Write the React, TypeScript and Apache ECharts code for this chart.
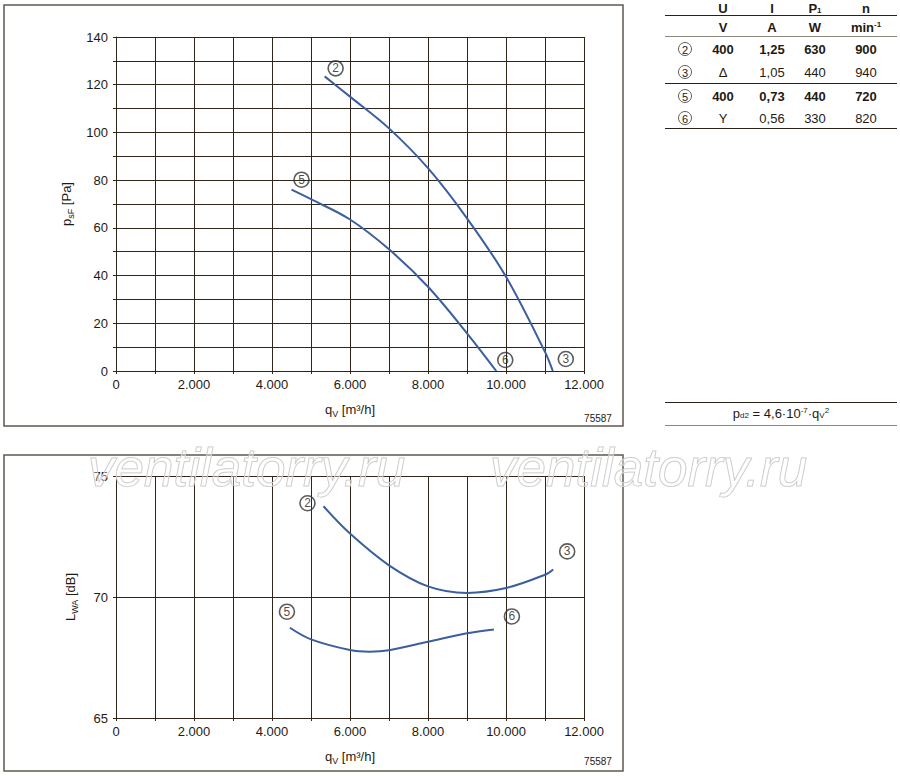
import React, { useEffect, useRef } from 'react';
import * as echarts from 'echarts';

// ---------- data ----------
const flowMin = 0;
const flowMax = 12000;
const flowStep = 1000;

// static pressure p_sF [Pa] vs flow q_V [m3/h]
const pressureCurveHigh: [number, number][] = [
  [5350, 123.5], [6000, 115], [7000, 101.7], [8000, 85], [9000, 64], [10000, 39.5], [11000, 8], [11200, 0],
];
const pressureCurveLow: [number, number][] = [
  [4500, 76], [5000, 72], [6000, 63.5], [7000, 51], [8000, 35.3], [9000, 15.8], [9750, 0],
];
// sound power L_WA [dB] vs flow
const soundCurveHigh: [number, number][] = [
  [5320, 73.75], [6000, 72.62], [7000, 71.31], [8000, 70.44], [9000, 70.17], [10000, 70.37], [11000, 70.92], [11210, 71.14],
];
const soundCurveLow: [number, number][] = [
  [4460, 68.73], [5000, 68.25], [6000, 67.81], [6500, 67.74], [7000, 67.8], [8000, 68.15], [9000, 68.5], [9690, 68.66],
];
const curveStartIds = ['2', '5'];
const curveEndIds = ['3', '6'];

// table
const tableIds = ['2', '3', '5', '6'];
const tableU = ['400', 'Δ', '400', 'Y'];
const tableI = ['1,25', '1,05', '0,73', '0,56'];
const tableP = ['630', '440', '440', '330'];
const tableN = ['900', '940', '720', '820'];
const tableBold = [true, false, true, false];
const tableHeaders = ['U', 'I', 'P{sub|1}', 'n'];
const tableUnits = ['V', 'A', 'W', 'min{sup|-1}'];

const drawingNo = '75587';
const watermarkText = 'ventilatorry.ru';

// ---------- styles ----------
const FONT = '"Liberation Sans", Arial, Helvetica, sans-serif';
const INK = '#1f1a12';
const GRIDC = '#2f2619';
const BLUE = '#3b5e9c';
const FRAME = '#5f5a50';

const subRich = {
  sub: { fontSize: 9, lineHeight: 10, verticalAlign: 'bottom' as const, fontFamily: FONT, color: INK },
  sup: { fontSize: 8, lineHeight: 10, verticalAlign: 'top' as const, fontFamily: FONT, color: INK },
};

const fmtFlow = (v: number) => {
  if (v % 2000 !== 0) return '';
  if (v === 0) return '0';
  return String(v / 1000) + '.000';
};

function circleLabel(id: string, dx: number, dy: number) {
  return {
    show: true,
    position: 'inside',
    offset: [dx, dy],
    formatter: id,
    color: INK,
    fontSize: 12,
    fontFamily: FONT,
    width: 13,
    height: 13,
    lineHeight: 13,
    align: 'center',
    verticalAlign: 'middle',
    borderColor: '#333',
    borderWidth: 0.8,
    borderRadius: 8,
    padding: [1, 1, 1, 1],
    backgroundColor: 'transparent',
  };
}

function buildOption() {
  const xAxisBase = (gridIndex: number, nameGap: number) => ({
    type: 'value',
    gridIndex,
    min: flowMin,
    max: flowMax,
    interval: flowStep,
    axisLine: { show: true, lineStyle: { color: GRIDC, width: 1 } },
    axisTick: { show: true, length: 3, lineStyle: { color: GRIDC } },
    axisLabel: { formatter: fmtFlow, color: INK, fontSize: 13, fontFamily: FONT, margin: 7 },
    splitLine: { show: true, lineStyle: { color: GRIDC, width: 1 } },
    name: 'q{sub|V} [m³/h]',
    nameLocation: 'middle',
    nameGap,
    nameTextStyle: { color: INK, fontSize: 13, fontFamily: FONT, lineHeight: 18, rich: subRich },
  });

  const lineSeries = (data: [number, number][], idx: number) => ({
    type: 'line',
    xAxisIndex: idx,
    yAxisIndex: idx,
    data,
    smooth: 0.35,
    symbol: 'none',
    lineStyle: { color: BLUE, width: 2 },
    z: 5,
  });

  const endLabels = (
    curves: [number, number][][],
    idx: number,
    offs: [number, number][][]
  ) => ({
    type: 'scatter',
    xAxisIndex: idx,
    yAxisIndex: idx,
    symbolSize: 0,
    silent: true,
    z: 6,
    data: curves.flatMap((c, i) => [
      { value: c[0], label: circleLabel(curveStartIds[i], offs[i][0][0], offs[i][0][1]) },
      { value: c[c.length - 1], label: circleLabel(curveEndIds[i], offs[i][1][0], offs[i][1][1]) },
    ]),
  });

  // table graphics
  const colX = [723, 772, 815, 866];
  const rowY = [49, 72, 96, 118];
  const tableGraphics: any[] = [];
  const txt = (text: string, x: number, y: number, bold: boolean, extra: any = {}) => ({
    type: 'text',
    style: {
      text,
      x,
      y,
      textAlign: 'center',
      textVerticalAlign: 'middle',
      fontSize: 13,
      fontWeight: bold ? 'bold' : 'normal',
      fontFamily: FONT,
      fill: INK,
      rich: {
        sub: { fontSize: 8, lineHeight: 8, verticalAlign: 'bottom', fontWeight: 'bold', fontFamily: FONT, fill: INK },
        sup: { fontSize: 8, lineHeight: 8, verticalAlign: 'top', fontWeight: 'bold', fontFamily: FONT, fill: INK },
      },
      ...extra,
    },
    z: 10,
  });
  tableHeaders.forEach((h, i) => tableGraphics.push(txt(h, colX[i], 8, true)));
  tableUnits.forEach((h, i) => tableGraphics.push(txt(h, colX[i], 27, true)));
  tableIds.forEach((id, r) => {
    tableGraphics.push({
      type: 'circle',
      shape: { cx: 685, cy: rowY[r], r: 6.5 },
      style: { fill: 'none', stroke: '#333', lineWidth: 0.8 },
      z: 10,
    });
    tableGraphics.push(txt(id, 685, rowY[r] + 0.5, false, { fontSize: 11 }));
    const vals = [tableU[r], tableI[r], tableP[r], tableN[r]];
    vals.forEach((v, c) => tableGraphics.push(txt(v, colX[c], rowY[r], tableBold[r])));
  });
  const hline = (y: number, color: string, w = 1) => ({
    type: 'line',
    shape: { x1: 665, y1: y, x2: 897, y2: y },
    style: { stroke: color, lineWidth: w },
    z: 10,
  });
  tableGraphics.push(hline(15.5, '#2a2217', 1));
  tableGraphics.push(hline(36.5, '#8e897f', 1));
  tableGraphics.push(hline(83.5, '#2a2217', 1));
  tableGraphics.push(hline(128.5, '#2a2217', 1));
  tableGraphics.push(hline(402.5, '#2a2217', 1));
  tableGraphics.push(hline(425.5, '#8e897f', 1));
  tableGraphics.push({
    type: 'text',
    style: {
      text: 'p{sub|d2} = 4,6·10{sup|-7}·q{sub|V}{sup|2}',
      x: 781,
      y: 413,
      textAlign: 'center',
      textVerticalAlign: 'middle',
      fontSize: 13,
      fontFamily: FONT,
      fill: INK,
      rich: {
        sub: { fontSize: 8, lineHeight: 10, verticalAlign: 'bottom', fontFamily: FONT, fill: INK },
        sup: { fontSize: 8, lineHeight: 10, verticalAlign: 'top', fontFamily: FONT, fill: INK },
      },
    },
    z: 10,
  });

  const frames = [
    { type: 'rect', shape: { x: 4, y: 5, width: 619, height: 421 }, style: { fill: 'none', stroke: FRAME, lineWidth: 1.5 }, z: 1 },
    { type: 'rect', shape: { x: 4, y: 455, width: 619, height: 316 }, style: { fill: 'none', stroke: FRAME, lineWidth: 1.5 }, z: 1 },
  ];
  const codes = [
    { type: 'text', style: { text: drawingNo, x: 598, y: 418, textAlign: 'center', textVerticalAlign: 'middle', fontSize: 10, fontFamily: FONT, fill: INK }, z: 10 },
    { type: 'text', style: { text: drawingNo, x: 598, y: 761, textAlign: 'center', textVerticalAlign: 'middle', fontSize: 10, fontFamily: FONT, fill: INK }, z: 10 },
  ];
  const watermarks = [88, 490].map((x) => ({
    type: 'text',
    style: {
      text: watermarkText,
      x,
      y: 467,
      textAlign: 'left',
      textVerticalAlign: 'middle',
      fontSize: 53,
      fontStyle: 'italic',
      fontFamily: FONT,
      fill: 'rgba(255,255,255,0.35)',
      stroke: '#c4c4c4',
      lineWidth: 1,
    },
    z: 20,
    silent: true,
  }));

  return {
    animation: false,
    backgroundColor: '#ffffff',
    grid: [
      { left: 116, top: 37, width: 468, height: 334 },
      { left: 116, top: 476, width: 468, height: 242 },
    ],
    xAxis: [xAxisBase(0, 29), xAxisBase(1, 29)],
    yAxis: [
      {
        type: 'value',
        gridIndex: 0,
        min: 0,
        max: 140,
        interval: 10,
        axisLine: { show: true, lineStyle: { color: GRIDC, width: 1 } },
        axisTick: { show: true, length: 3, lineStyle: { color: GRIDC } },
        axisLabel: { formatter: (v: number) => (v % 20 === 0 ? String(v) : ''), color: INK, fontSize: 13, fontFamily: FONT, margin: 8 },
        splitLine: { show: true, lineStyle: { color: GRIDC, width: 1 } },
        name: 'p{sub|sF} [Pa]',
        nameLocation: 'middle',
        nameRotate: 90,
        nameGap: 37,
        nameTextStyle: { color: INK, fontSize: 13, fontFamily: FONT, lineHeight: 18, rich: subRich },
      },
      {
        type: 'value',
        gridIndex: 1,
        min: 65,
        max: 75,
        interval: 5,
        axisLine: { show: true, lineStyle: { color: GRIDC, width: 1 } },
        axisTick: { show: true, length: 3, lineStyle: { color: GRIDC } },
        axisLabel: { color: INK, fontSize: 13, fontFamily: FONT, margin: 8 },
        splitLine: { show: true, lineStyle: { color: GRIDC, width: 1 } },
        name: 'L{sub|WA} [dB]',
        nameLocation: 'middle',
        nameRotate: 90,
        nameGap: 37,
        nameTextStyle: { color: INK, fontSize: 13, fontFamily: FONT, lineHeight: 18, rich: subRich },
      },
    ],
    series: [
      lineSeries(pressureCurveHigh, 0),
      lineSeries(pressureCurveLow, 0),
      lineSeries(soundCurveHigh, 1),
      lineSeries(soundCurveLow, 1),
      endLabels([pressureCurveHigh, pressureCurveLow], 0, [
        [[11, -8], [13, -12]],
        [[10, -10], [9, -11]],
      ]),
      endLabels([soundCurveHigh, soundCurveLow], 1, [
        [[-16, -3], [14, -18]],
        [[-3, -16], [18, -13]],
      ]),
    ],
    graphic: [...frames, ...tableGraphics, ...codes, ...watermarks],
  };
}

export default function App() {
  const ref = useRef<HTMLDivElement>(null);
  useEffect(() => {
    if (!ref.current) return;
    const chart = echarts.init(ref.current, undefined, { renderer: 'svg' });
    chart.setOption(buildOption() as any);
    return () => chart.dispose();
  }, []);
  return (
    <div
      ref={ref}
      style={{ position: 'absolute', left: 0, top: 0, width: 900, height: 776, background: '#fff' }}
    />
  );
}
